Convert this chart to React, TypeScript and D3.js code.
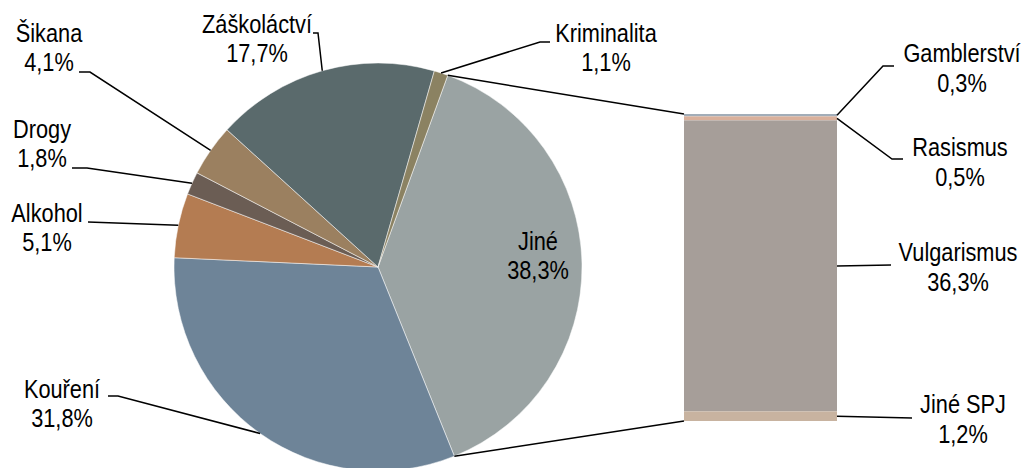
import React from 'react';
import * as d3 from 'd3';

// pie part
const pieLabels = ['Jiné', 'Kouření', 'Alkohol', 'Drogy', 'Šikana', 'Záškoláctví', 'Kriminalita'];
const pieValues = [38.3, 31.8, 5.1, 1.8, 4.1, 17.7, 1.1];
const pieColors = ['#9aa3a3', '#6e8498', '#b47c52', '#6b5d54', '#9b8060', '#5a6a6c', '#8b8262'];

// bar part (split of "Jiné")
const barLabels = ['Gamblerství', 'Rasismus', 'Vulgarismus', 'Jiné SPJ'];
const barValues = [0.3, 0.5, 36.3, 1.2];
const barColors = ['#a2adb8', '#d9b09b', '#a69e99', '#c8b3a0'];

const fmt = (v: number) => v.toFixed(1).replace('.', ',') + '%';

const W = 1024;
const H = 468;
const cx = 378;
const cy = 267;
const R = 204;
const FONT = '"Liberation Sans", Arial, sans-serif';
const FS = 25;
const SX = 0.87; // fake narrow font

// label placement: text centre x, first baseline y, leader start points (label side)
const pieLabelPos: Record<string, { x: number; y: number; lead?: [number, number][] }> = {
  'Jiné': { x: 538, y: 250 },
  'Kouření': { x: 62, y: 398, lead: [[108, 396], [118, 396]] },
  'Alkohol': { x: 47, y: 222, lead: [[88, 222]] },
  'Drogy': { x: 42, y: 138, lead: [[72, 168], [87, 168]] },
  'Šikana': { x: 49, y: 42, lead: [[79, 72], [90, 72]] },
  'Záškoláctví': { x: 257, y: 33, lead: [[313, 33], [318, 33]] },
  'Kriminalita': { x: 606, y: 42, lead: [[550, 42], [540, 42]] },
};

const barLabelPos: Record<string, { x: number; y: number; lead: [number, number][] }> = {
  'Gamblerství': { x: 962, y: 62, lead: [[883, 66], [894, 66]] },
  'Rasismus': { x: 960, y: 156, lead: [[892, 159], [903, 159]] },
  'Vulgarismus': { x: 958, y: 261, lead: [[891, 265]] },
  'Jiné SPJ': { x: 963, y: 413, lead: [[912, 418]] },
};

const Label = ({ x, y, text }: { x: number; y: number; text: string }) => (
  <text transform={`translate(${x},${y}) scale(${SX},1)`} textAnchor="middle" fill="#000">{text}</text>
);

export default function App() {
  const start = (20 * Math.PI) / 180;
  const pie = d3.pie<number>().sort(null).value(d => d).startAngle(start).endAngle(start + 2 * Math.PI);
  const arcs = pie(pieValues);
  const arc = d3.arc<d3.PieArcDatum<number>>().innerRadius(0).outerRadius(R);
  const labelArc = d3.arc<d3.PieArcDatum<number>>().innerRadius(160).outerRadius(160);

  const barX0 = 684;
  const barX1 = 837;
  const barTotal = d3.sum(barValues);
  const y = d3.scaleLinear().domain([0, barTotal]).range([114, 421]);
  const cum = d3.cumsum(barValues);
  const segs = barValues.map((v, i) => ({ label: barLabels[i], v, y0: y(cum[i] - v), y1: y(cum[i]), color: barColors[i] }));

  const onRim = (a: number, r = R): [number, number] => [cx + r * Math.sin(a), cy - r * Math.cos(a)];
  const line = d3.line();

  const jine = arcs[0];
  const topJoin = onRim(jine.startAngle);
  const botJoin = onRim(jine.endAngle);

  return (
    <svg width={W} height={H} style={{ position: 'absolute', left: 0, top: 0, background: '#fff' }} fontFamily={FONT} fontSize={FS}>
      <g transform={`translate(${cx},${cy})`}>
        {arcs.map((a, i) => (
          <path key={pieLabels[i]} d={arc(a) || ''} fill={pieColors[i]} stroke="#fff" strokeWidth={0.5} />
        ))}
      </g>

      {/* connector lines between pie and bar */}
      <path d={line([topJoin, [barX0, y(0)]]) || ''} stroke="#000" strokeWidth={1.5} fill="none" />
      <path d={line([botJoin, [barX0, y(barTotal)]]) || ''} stroke="#000" strokeWidth={1.5} fill="none" />

      {segs.map(s => (
        <rect key={s.label} x={barX0} y={s.y0} width={barX1 - barX0} height={s.y1 - s.y0} fill={s.color} />
      ))}

      {/* pie labels */}
      {arcs.map((a, i) => {
        const name = pieLabels[i];
        const p = pieLabelPos[name];
        const mid = (a.startAngle + a.endAngle) / 2;
        let pos = p;
        if (!p.lead) {
          const c = labelArc.centroid(a);
          pos = { x: cx + c[0], y: cy + c[1] - 14 };
        }
        return (
          <g key={name}>
            {p.lead && (
              <path d={line([...p.lead, onRim(mid)]) || ''} stroke="#000" strokeWidth={1.5} fill="none" />
            )}
            <Label x={pos.x} y={pos.y} text={name} />
            <Label x={pos.x} y={pos.y + 29} text={fmt(pieValues[i])} />
          </g>
        );
      })}

      {/* bar labels */}
      {segs.map(s => {
        const p = barLabelPos[s.label];
        const ym = (s.y0 + s.y1) / 2;
        return (
          <g key={s.label}>
            <path d={line([[barX1, ym], ...p.lead]) || ''} stroke="#000" strokeWidth={1.5} fill="none" />
            <Label x={p.x} y={p.y} text={s.label} />
            <Label x={p.x} y={p.y + 30} text={fmt(s.v)} />
          </g>
        );
      })}
    </svg>
  );
}
